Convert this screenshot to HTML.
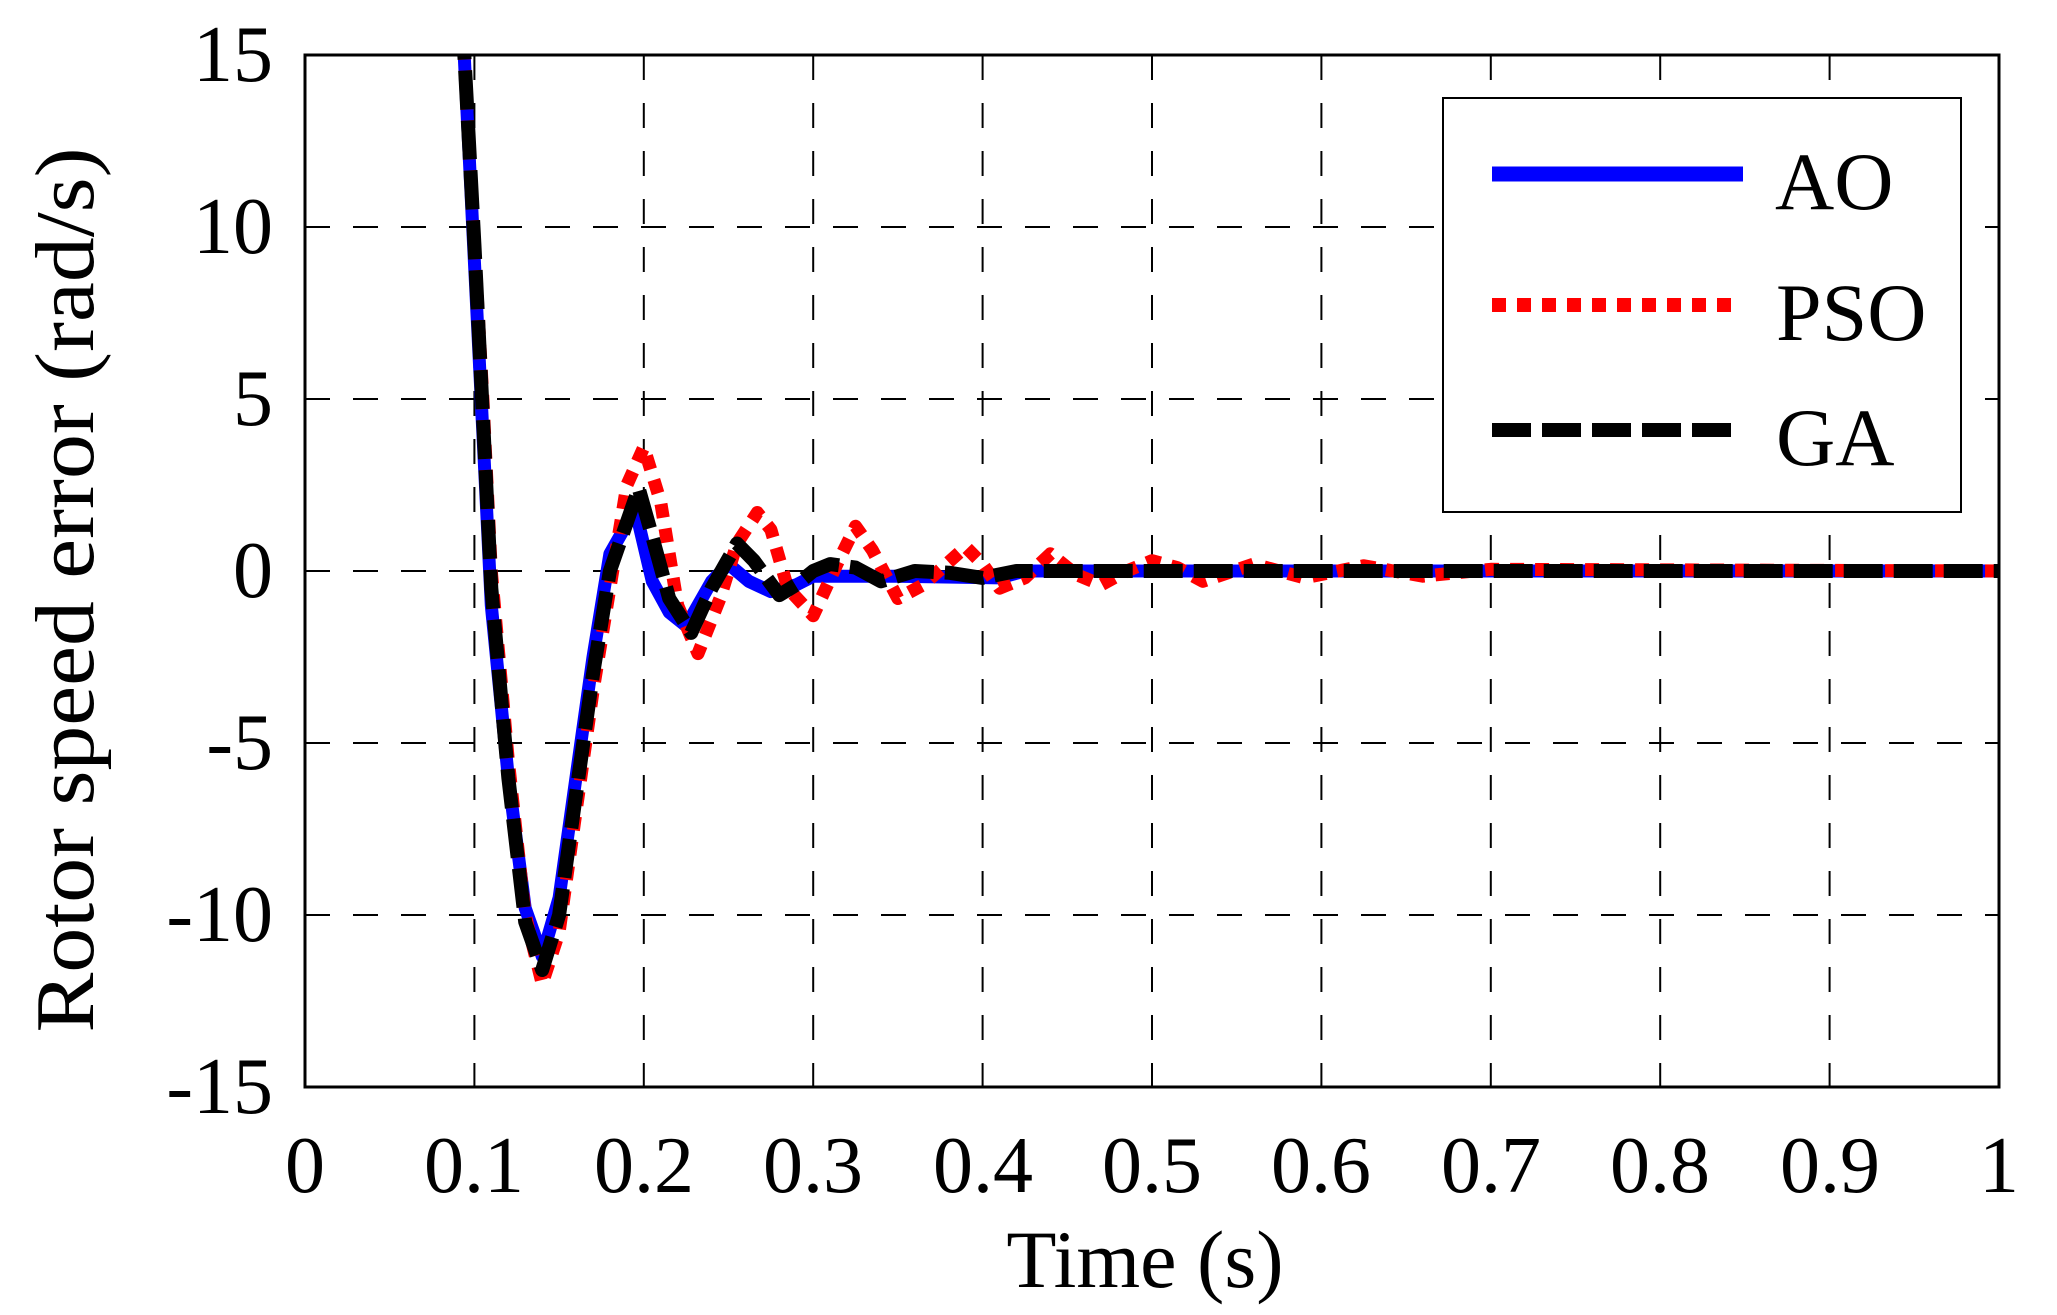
<!DOCTYPE html>
<html><head><meta charset="utf-8"><style>
html,body{margin:0;padding:0;background:#fff;width:2057px;height:1315px;overflow:hidden}
svg{display:block}
text{font-family:"Liberation Serif",serif;fill:#000}
</style></head><body>
<svg id="s" width="2057" height="1315" viewBox="0 0 2057 1315" xmlns="http://www.w3.org/2000/svg">
<defs><clipPath id="c"><rect x="305" y="55" width="1694" height="1032"/></clipPath></defs>
<rect x="0" y="0" width="2057" height="1315" fill="#fff"/>
<g id="grid" stroke="#000" stroke-width="2" stroke-dasharray="25,23" fill="none"></g>
<g id="curves" clip-path="url(#c)" fill="none" stroke-linejoin="round"></g>
<rect x="305" y="55" width="1694" height="1032" fill="none" stroke="#000" stroke-width="3"/>
<g font-size="80" text-anchor="end">
<text x="273" y="81">15</text>
<text x="273" y="253">10</text>
<text x="273" y="425">5</text>
<text x="273" y="597">0</text>
<text x="273" y="769">-5</text>
<text x="273" y="941">-10</text>
<text x="273" y="1113">-15</text>
</g>
<g font-size="80" text-anchor="middle">
<text x="305" y="1192">0</text>
<text x="474" y="1192">0.1</text>
<text x="644" y="1192">0.2</text>
<text x="813" y="1192">0.3</text>
<text x="983" y="1192">0.4</text>
<text x="1152" y="1192">0.5</text>
<text x="1321" y="1192">0.6</text>
<text x="1491" y="1192">0.7</text>
<text x="1660" y="1192">0.8</text>
<text x="1830" y="1192">0.9</text>
<text x="1999" y="1192">1</text>
</g>
<text x="1145" y="1287" font-size="82" text-anchor="middle">Time (s)</text>
<text transform="translate(93,590) rotate(-90)" font-size="84" text-anchor="middle" textLength="885" lengthAdjust="spacingAndGlyphs">Rotor speed error (rad/s)</text>
<rect x="1443" y="98" width="518" height="414" fill="#fff" stroke="#000" stroke-width="2"/>
<line x1="1492" y1="174" x2="1743" y2="174" stroke="#0000ff" stroke-width="15"/>
<line x1="1492" y1="305" x2="1731" y2="305" stroke="#ff0000" stroke-width="14" stroke-dasharray="14,11"/>
<line x1="1492" y1="430" x2="1731" y2="430" stroke="#000" stroke-width="14" stroke-dasharray="39,11"/>
<g font-size="82">
<text x="1775" y="209">AO</text>
<text x="1776" y="340">PSO</text>
<text x="1776" y="465">GA</text>
</g>
</svg>
<script>
var X=function(t){return 305+1694*t},Y=function(v){return 571-34.4*v};
var g=document.getElementById('grid'),ns='http://www.w3.org/2000/svg';
for(var i=1;i<10;i++){var l=document.createElementNS(ns,'line');l.setAttribute('x1',X(i/10));l.setAttribute('x2',X(i/10));l.setAttribute('y1',55);l.setAttribute('y2',1087);g.appendChild(l);}
[10,5,0,-5,-10].forEach(function(v){var l=document.createElementNS(ns,'line');l.setAttribute('x1',305);l.setAttribute('x2',1999);l.setAttribute('y1',Y(v));l.setAttribute('y2',Y(v));g.appendChild(l);});
var AO=[[0.093,16],[0.1,9],[0.105,4],[0.11,-1],[0.12,-6],[0.13,-9.8],[0.14,-11.2],[0.15,-9.5],[0.16,-6],[0.17,-2.5],[0.18,0.5],[0.195,1.8],[0.205,-0.3],[0.215,-1.2],[0.225,-1.6],[0.24,-0.3],[0.25,0.2],[0.262,-0.3],[0.275,-0.6],[0.29,-0.4],[0.3,-0.15],[0.35,-0.15],[0.41,-0.2],[0.425,0],[1.01,0]];
var PSO=[[0.093,16],[0.1,9.5],[0.105,5],[0.11,0],[0.12,-5.5],[0.13,-10],[0.14,-12],[0.15,-10.5],[0.16,-7],[0.17,-3.5],[0.18,-0.5],[0.19,2.5],[0.2,3.6],[0.21,2],[0.22,-1],[0.232,-2.4],[0.245,-0.8],[0.255,0.8],[0.267,1.7],[0.275,1.2],[0.285,-0.5],[0.3,-1.3],[0.315,0.3],[0.325,1.3],[0.335,0.6],[0.35,-0.8],[0.365,-0.4],[0.39,0.7],[0.4,0.2],[0.41,-0.5],[0.425,-0.2],[0.44,0.5],[0.455,-0.1],[0.47,-0.4],[0.485,0],[0.5,0.3],[0.515,0.1],[0.53,-0.3],[0.56,0.2],[0.59,-0.2],[0.625,0.15],[0.66,-0.15],[0.7,0.05],[1.01,0]];
var GA=[[0.093,16],[0.1,9.5],[0.105,4.5],[0.11,-0.5],[0.12,-6],[0.13,-10.2],[0.14,-11.6],[0.15,-10],[0.16,-6.5],[0.17,-3],[0.18,0],[0.197,2.4],[0.205,1],[0.215,-0.8],[0.228,-1.8],[0.24,-0.5],[0.255,0.8],[0.265,0.3],[0.28,-0.7],[0.29,-0.4],[0.3,0],[0.31,0.2],[0.325,0.1],[0.34,-0.3],[0.36,0],[0.38,-0.05],[0.4,-0.2],[0.42,0],[1.01,0]];
var cg=document.getElementById('curves');
function add(d,col,w,da){var p=document.createElementNS(ns,'polyline');p.setAttribute('points',d.map(function(q){return X(q[0]).toFixed(1)+','+Y(q[1]).toFixed(1)}).join(' '));p.setAttribute('stroke',col);p.setAttribute('stroke-width',w);if(da)p.setAttribute('stroke-dasharray',da);cg.appendChild(p);}
add(AO,'#0000ff',13);
add(PSO,'#ff0000',13,'14,11');
add(GA,'#000',14,'39,11');
</script>
</body></html>
